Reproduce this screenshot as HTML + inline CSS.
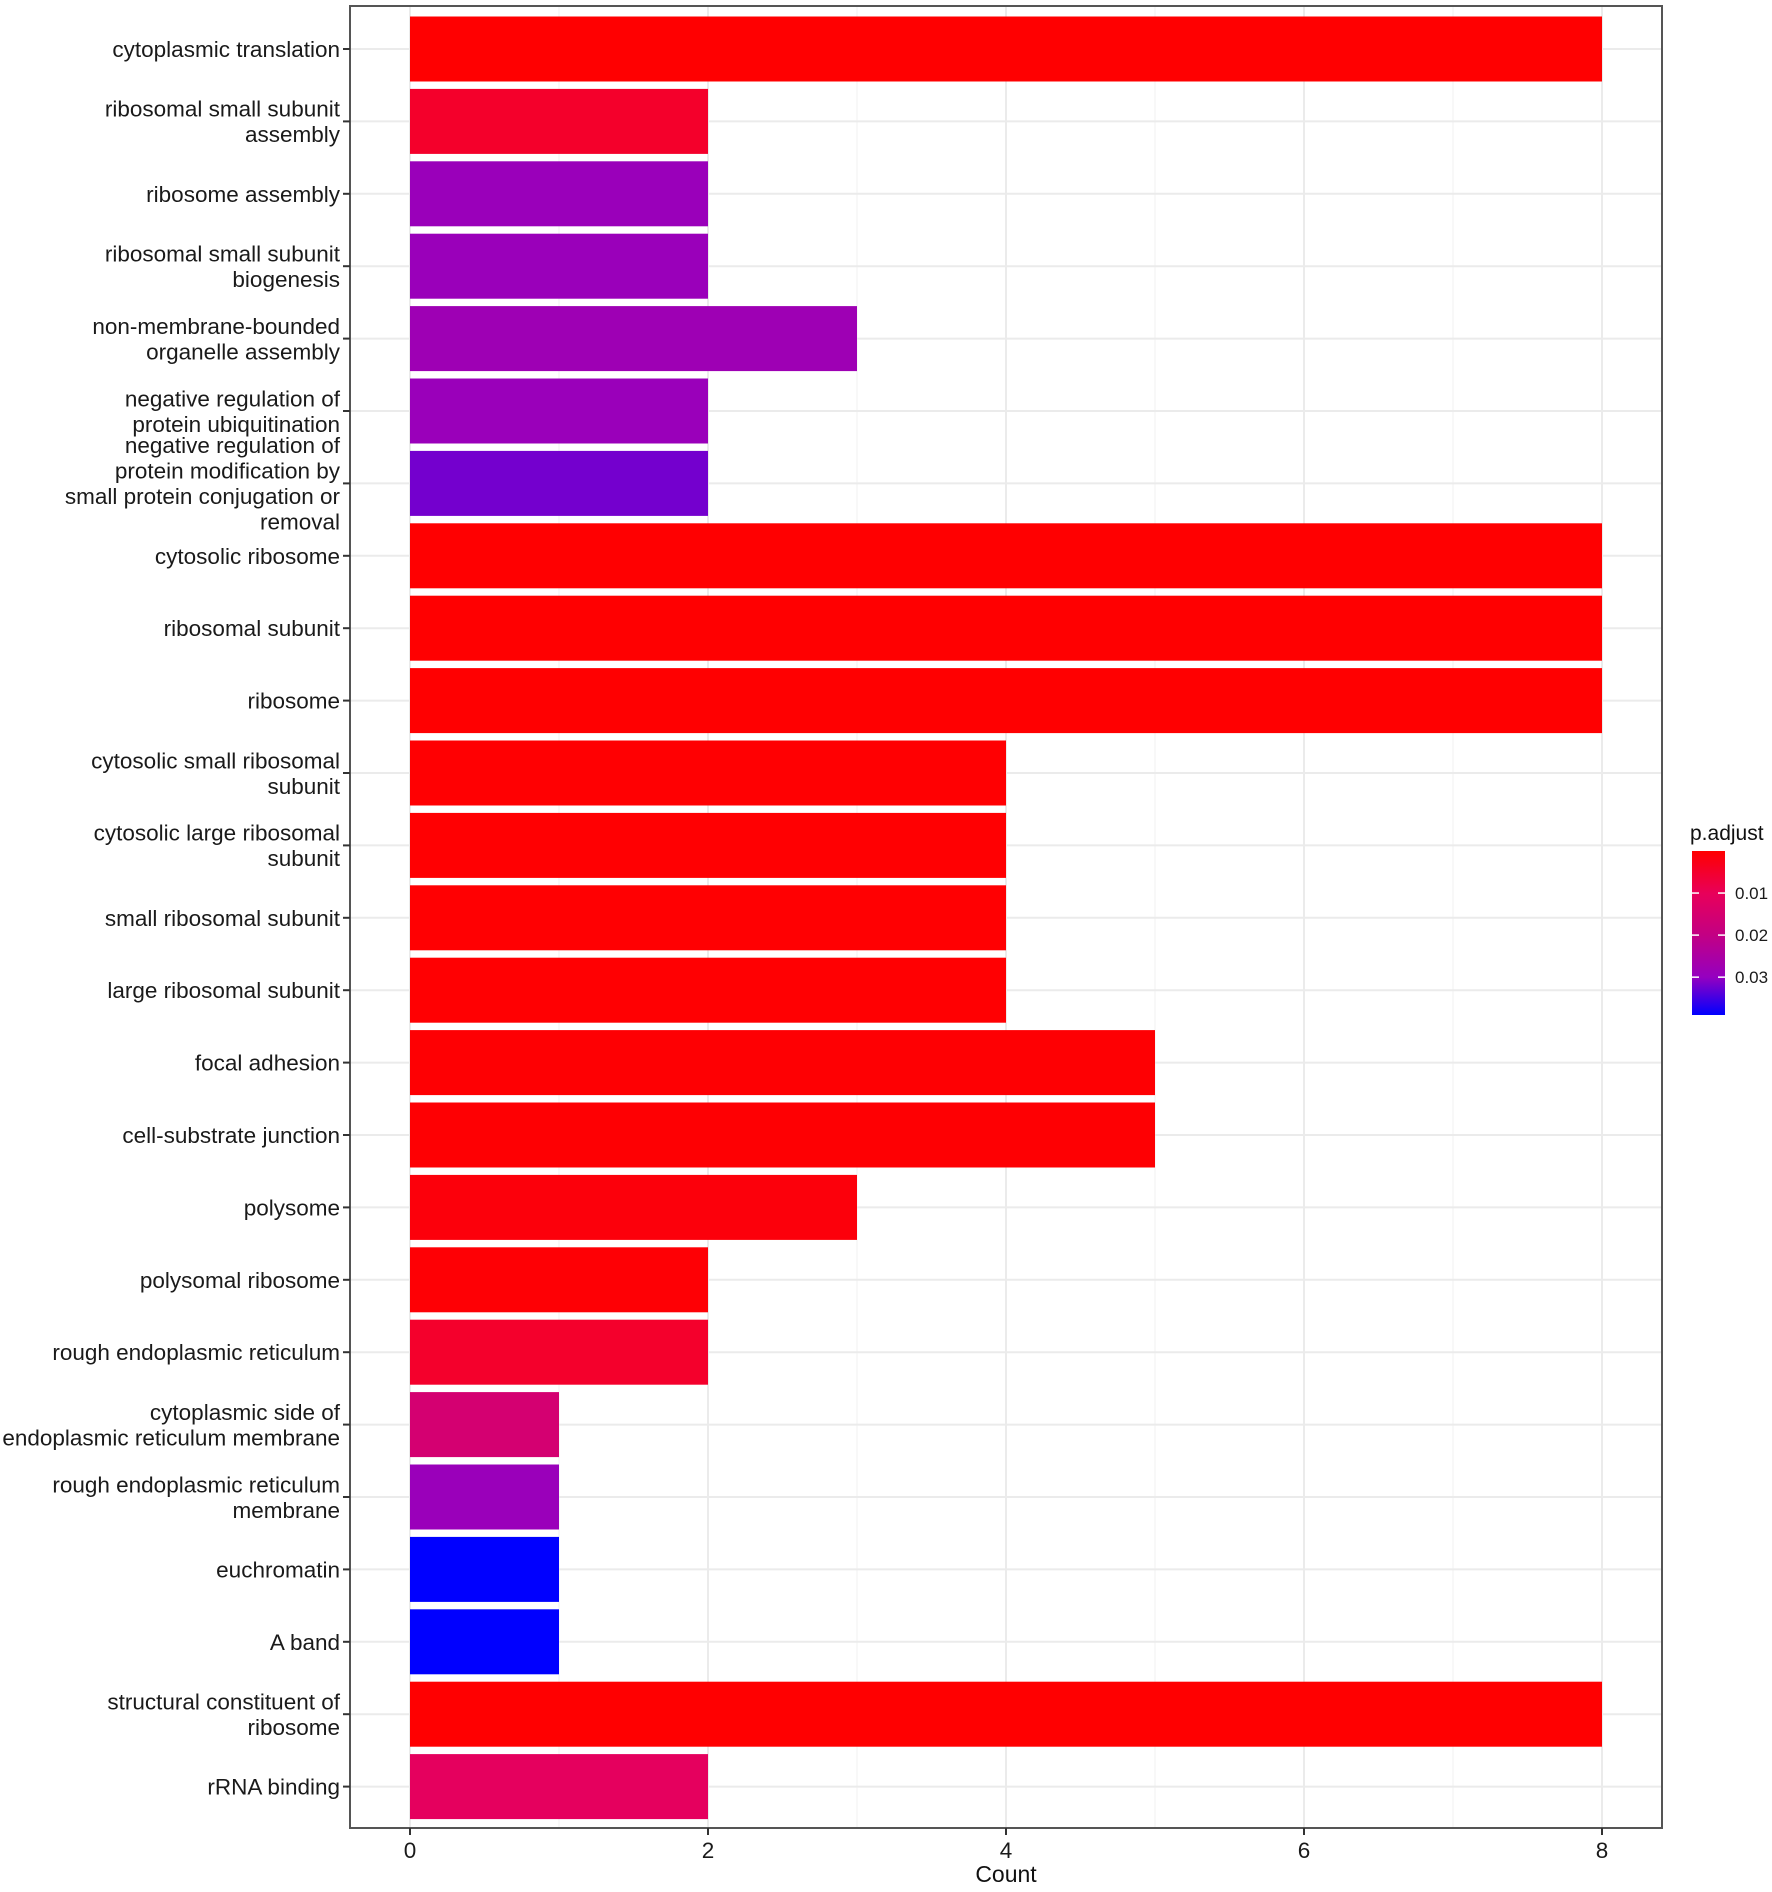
<!DOCTYPE html>
<html><head><meta charset="utf-8"><style>
html,body{margin:0;padding:0;background:#fff;}
svg text{font-family:"Liberation Sans",Arial,sans-serif;}
</style></head><body>
<svg id="chart" width="1772" height="1887" viewBox="0 0 1772 1887" xmlns="http://www.w3.org/2000/svg">
<defs>
<linearGradient id="lg" x1="0" y1="0" x2="0" y2="1">
<stop offset="0" stop-color="#ff0000"/><stop offset="0.26" stop-color="#e8005a"/>
<stop offset="0.51" stop-color="#c30083"/><stop offset="0.77" stop-color="#9500c0"/>
<stop offset="1" stop-color="#0000ff"/>
</linearGradient>
</defs>
<g id="grid"></g>
<g id="bars"></g>
<rect x="350" y="6" width="1312" height="1822" fill="none" stroke="#555" stroke-width="2"/>
<g id="ylabels"></g>
<g id="xaxis"></g>
<text x="1006" y="1882" font-size="23" text-anchor="middle" fill="#111">Count</text>
<g>
<text x="1690" y="840" font-size="21" fill="#111">p.adjust</text>
<rect x="1692" y="851" width="33" height="164" fill="url(#lg)"/>
<g id="legticks"></g>
</g>
</svg>
<script>
const categories = [
["cytoplasmic translation"],["ribosomal small subunit","assembly"],["ribosome assembly"],
["ribosomal small subunit","biogenesis"],["non-membrane-bounded","organelle assembly"],
["negative regulation of","protein ubiquitination"],
["negative regulation of","protein modification by","small protein conjugation or","removal"],
["cytosolic ribosome"],["ribosomal subunit"],["ribosome"],
["cytosolic small ribosomal","subunit"],["cytosolic large ribosomal","subunit"],
["small ribosomal subunit"],["large ribosomal subunit"],["focal adhesion"],
["cell-substrate junction"],["polysome"],["polysomal ribosome"],["rough endoplasmic reticulum"],
["cytoplasmic side of","endoplasmic reticulum membrane"],["rough endoplasmic reticulum","membrane"],
["euchromatin"],["A band"],["structural constituent of","ribosome"],["rRNA binding"]
];
const counts = [8,2,2,2,3,2,2,8,8,8,4,4,4,4,5,5,3,2,2,1,1,1,1,8,2];
const pAdjust = [0.0001,0.0048,0.029,0.029,0.028,0.029,0.032,0.0001,0.0001,0.0001,0.0002,0.0002,0.0002,0.0002,0.0003,0.0003,0.0012,0.0006,0.0050,0.0155,0.029,0.039,0.039,0.0001,0.0110];
const xTicks = [0,2,4,6,8];
const legendTicks = [0.01,0.02,0.03];

const NS="http://www.w3.org/2000/svg";
const x = v => 410 + v*149;
const y = i => 49 + i*72.4;
const pMin=0.0, pMax=0.039;
const legY = p => 851 + (p-pMin)/(pMax-pMin)*164;
const stops=[[0,[255,0,0]],[0.26,[232,0,90]],[0.51,[195,0,131]],[0.77,[149,0,192]],[1,[0,0,255]]];
function col(p){let t=Math.max(0,Math.min(1,(p-pMin)/(pMax-pMin)));
 for(let k=1;k<stops.length;k++){if(t<=stops[k][0]){const a=stops[k-1],b=stops[k];const u=(t-a[0])/(b[0]-a[0]);
 return 'rgb('+a[1].map((c,j)=>Math.round(c+(b[1][j]-c)*u)).join(',')+')';}}return 'rgb(0,0,255)';}
function mk(tag,attrs,parent){const e=document.createElementNS(NS,tag);for(const k in attrs)e.setAttribute(k,attrs[k]);parent.appendChild(e);return e;}
const grid=document.getElementById('grid');
for(let v=0;v<=8;v+=1){const gl=mk('line',{x1:x(v),x2:x(v),y1:6,y2:1828,stroke:v%2?'#f3f3f3':'#ebebeb','stroke-width':v%2?1.2:2},grid);

}
categories.forEach((c,i)=>{const gl=mk('line',{x1:350,x2:1662,y1:y(i),y2:y(i),stroke:'#ebebeb','stroke-width':2},grid);

});
const bars=document.getElementById('bars');
counts.forEach((v,i)=>{const r=mk('rect',{x:x(0),y:y(i)-32.5,width:x(v)-x(0),height:65,fill:col(pAdjust[i])},bars);

});
const yl=document.getElementById('ylabels');
categories.forEach((lines,i)=>{const tk=mk('line',{x1:343,x2:350,y1:y(i),y2:y(i),stroke:'#333','stroke-width':2},yl);


const lh=25.5;const y0=y(i)-(lines.length-1)*lh/2+8;
const t=mk('text',{x:340,y:y0,'font-size':22.5,'text-anchor':'end',fill:'#1a1a1a'},yl);


lines.forEach((s,j)=>{const ts=mk('tspan',{x:340,y:y0+j*lh},t);ts.textContent=s;});});
const xa=document.getElementById('xaxis');
xTicks.forEach(v=>{const tk=mk('line',{x1:x(v),x2:x(v),y1:1828,y2:1835,stroke:'#333','stroke-width':2},xa);


const t=mk('text',{x:x(v),y:1858,'font-size':22.5,'text-anchor':'middle',fill:'#1a1a1a'},xa);


t.textContent=v;});
const lt=document.getElementById('legticks');
legendTicks.forEach(p=>{const yy=legY(p);
[[1692,1699],[1718,1725]].forEach(a=>{const l=mk('line',{x1:a[0],x2:a[1],y1:yy,y2:yy,stroke:'#fff','stroke-width':1.5},lt);

});
const t=mk('text',{x:1735,y:yy+6,'font-size':17,fill:'#1a1a1a'},lt);


t.textContent=p.toFixed(2);});
</script>
</body></html>
